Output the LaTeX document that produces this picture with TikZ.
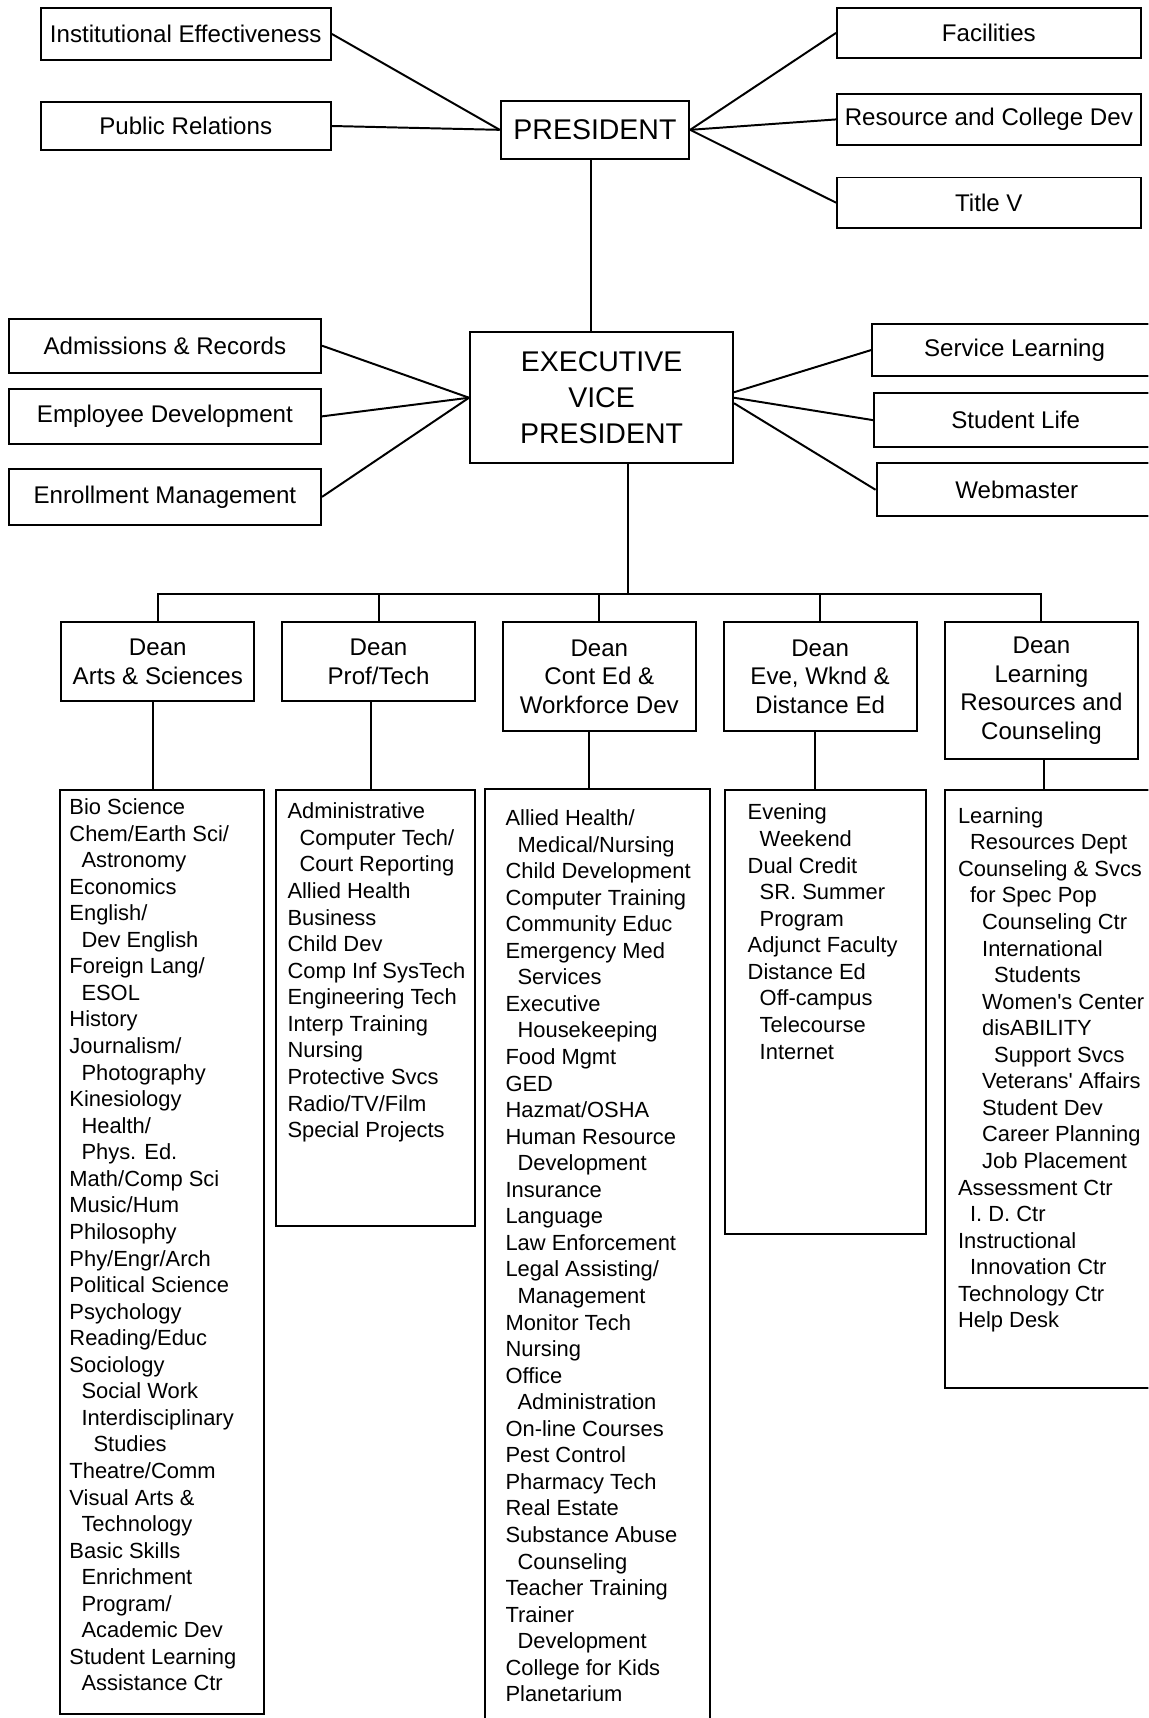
\documentclass[tikz,border=0pt]{standalone}
\usepackage{fontspec}
\setmainfont{Liberation Sans}
\usetikzlibrary{positioning}
\newcommand{\Ind}[1]{\hspace*{#1pt}}
\tikzset{
    box/.style={draw,line width=0.9pt,inner sep=0pt,align=center,font=\fontsize{11}{13}\selectfont},
    big/.style={box,font=\fontsize{13}{16.25}\selectfont},
    boxsize/.style 2 args={minimum width=#1*0.5pt,minimum height=#2*0.5pt},
    listbox/.style={draw,line width=0.9pt,anchor=north west,inner sep=0pt},
    listtext/.style={anchor=north west,inner sep=0pt,align=left,font=\fontsize{10}{12.12}\selectfont},
    link/.style={line width=0.9pt}
}

\begin{document}
\begin{tikzpicture}[x=0.5pt,y=-0.5pt]

    \useasboundingbox (0,0) rectangle (1048,1568);
    \clip (0,0) rectangle (1048,1568);

    % top level
    \node[box,boxsize={265}{48}] (InstEff) at (169.5,31) {Institutional Effectiveness};
    \node[box,boxsize={265}{44}] (PubRel) at (169.5,115) {Public Relations};
    \node[big,boxsize={172}{53}] (Pres) at (543,118.5) {PRESIDENT};
    \node[box,boxsize={277}{46}] (Fac) at (902.5,30) {Facilities};
    \node[box,boxsize={277}{46}] (ResDev) at (902.5,109) {Resource and College Dev};
    \node[box,boxsize={277}{46}] (TitleV) at (902.5,185) {Title V};

    % executive vice president
    \node[big,boxsize={240}{120}] (EVP) at (549,363) {EXECUTIVE\\VICE\\PRESIDENT};
    \node[box,boxsize={285}{49}] (Adm) at (150.5,315.5) {Admissions \& Records};
    \node[box,boxsize={285}{50}] (EmpDev) at (150.5,380) {Employee Development};
    \node[box,boxsize={285}{51}] (Enroll) at (150.5,453.5) {Enrollment Management};
    \node[box,boxsize={260}{47}] (SvcLrn) at (926,319.5) {Service Learning};
    \node[box,boxsize={258}{49}] (StuLife) at (927,383.5) {Student Life};
    \node[box,boxsize={256}{48}] (Web) at (928,447) {Webmaster};

    % deans
    \node[box,boxsize={176}{72}] (DeanAS) at (144,604) {Dean\\Arts \& Sciences};
    \node[box,boxsize={176}{72}] (DeanPT) at (345.5,604) {Dean\\Prof/Tech};
    \node[box,boxsize={176}{99}] (DeanCE) at (547,617.5) {Dean\\Cont Ed \&\\Workforce Dev};
    \node[box,boxsize={176}{99}] (DeanEve) at (748.5,617.5) {Dean\\Eve, Wknd \&\\Distance Ed};
    \node[box,boxsize={176}{125}] (DeanLRC) at (950.5,630.5) {Dean\\Learning\\Resources and\\Counseling};

    % departments
    \node[listbox,boxsize={186}{843}] (ListAS) at (54,720) {};
    \node[listbox,boxsize={182}{398}] (ListPT) at (251,720) {};
    \node[listbox,boxsize={205}{870}] (ListCE) at (442,719) {};
    \node[listbox,boxsize={183}{405}] (ListEve) at (661,720) {};
    \node[listbox,boxsize={200}{546}] (ListLRC) at (862,720) {};

    \node[listtext] (TxtAS) at (63,726) {\strut Bio Science\\
        Chem/Earth Sci/\\ \Ind{5.5}Astronomy\\ Economics\\ English/\\ \Ind{5.5}Dev English\\
        Foreign Lang/\\ \Ind{5.5}ESOL\\ History\\ Journalism/\\ \Ind{5.5}Photography\\
        Kinesiology\\ \Ind{5.5}Health/\\ \Ind{5.5}Phys. Ed.\\ Math/Comp Sci\\ Music/Hum\\
        Philosophy\\ Phy/Engr/Arch\\ Political Science\\ Psychology\\ Reading/Educ\\
        Sociology\\ \Ind{5.5}Social Work\\ \Ind{5.5}Interdisciplinary\\ \Ind{11}Studies\\
        Theatre/Comm\\ Visual Arts \&\\ \Ind{5.5}Technology\\ Basic Skills\\
        \Ind{5.5}Enrichment\\ \Ind{5.5}Program/\\ \Ind{5.5}Academic Dev\\
        Student Learning\\ \Ind{5.5}Assistance Ctr};
    \node[listtext] (TxtPT) at (262,730) {\strut Administrative\\
        \Ind{5.5}Computer Tech/\\ \Ind{5.5}Court Reporting\\ Allied Health\\ Business\\
        Child Dev\\ Comp Inf SysTech\\ Engineering Tech\\ Interp Training\\ Nursing\\
        Protective Svcs\\ Radio/TV/Film\\ Special Projects};
    \node[listtext] (TxtCE) at (461,736) {\strut Allied Health/\\
        \Ind{5.5}Medical/Nursing\\ Child Development\\ Computer Training\\ Community Educ\\
        Emergency Med\\ \Ind{5.5}Services\\ Executive\\ \Ind{5.5}Housekeeping\\ Food Mgmt\\
        GED\\ Hazmat/OSHA\\ Human Resource\\ \Ind{5.5}Development\\ Insurance\\ Language\\
        Law Enforcement\\ Legal Assisting/\\ \Ind{5.5}Management\\ Monitor Tech\\ Nursing\\
        Office\\ \Ind{5.5}Administration\\ On-line Courses\\ Pest Control\\ Pharmacy Tech\\
        Real Estate\\ Substance Abuse\\ \Ind{5.5}Counseling\\ Teacher Training\\ Trainer\\
        \Ind{5.5}Development\\ College for Kids\\ Planetarium};
    \node[listtext] (TxtEve) at (682,731) {\strut Evening\\
        \Ind{5.5}Weekend\\ Dual Credit\\ \Ind{5.5}SR. Summer\\ \Ind{5.5}Program\\
        Adjunct Faculty\\ Distance Ed\\ \Ind{5.5}Off-campus\\ \Ind{5.5}Telecourse\\
        \Ind{5.5}Internet};
    \node[listtext] (TxtLRC) at (874,734) {\strut Learning\\
        \Ind{5.5}Resources Dept\\ Counseling \& Svcs\\ \Ind{5.5}for Spec Pop\\
        \Ind{11}Counseling Ctr\\ \Ind{11}International\\ \Ind{16.5}Students\\
        \Ind{11}Women\textquotesingle s Center\\ \Ind{11}disABILITY\\ \Ind{16.5}Support Svcs\\
        \Ind{11}Veterans\textquotesingle\ Affairs\\ \Ind{11}Student Dev\\ \Ind{11}Career Planning\\
        \Ind{11}Job Placement\\ Assessment Ctr\\ \Ind{5.5}I. D. Ctr\\ Instructional\\
        \Ind{5.5}Innovation Ctr\\ Technology Ctr\\ Help Desk};

    % connectors
    \draw[link] (InstEff.east) -- (Pres.west);
    \draw[link] (PubRel.east) -- (Pres.west);
    \foreach \n in {Fac,ResDev,TitleV}
        \draw[link] (Pres.east) -- (\n.west);
    \draw[link] ([xshift=-2pt]Pres.south) -- ([xshift=-2pt]Pres.south |- EVP.north);
    \foreach \n in {Adm,EmpDev,Enroll}
        \draw[link] (\n.east) -- (EVP.west);
    \foreach \n/\dy in {SvcLrn/2.5pt,StuLife/0pt,Web/-2.5pt}
        \draw[link] ([yshift=\dy]EVP.east) -- (\n.west);

    \coordinate (Bus) at (573,542);
    \draw[link] (EVP.south -| Bus) -- (Bus);
    \draw[link] (DeanAS.north) |- (Bus) -| (DeanLRC.north);
    \foreach \n in {DeanPT,DeanCE,DeanEve}
        \draw[link] (\n.north) -- (\n.north |- Bus);

    \foreach \d/\l/\dx in {DeanAS/ListAS/-2pt,DeanPT/ListPT/-3.5pt,DeanCE/ListCE/-4.5pt,
                          DeanEve/ListEve/-2.2pt,DeanLRC/ListLRC/1.2pt}
        \draw[link] ([xshift=\dx]\d.south) -- ([xshift=\dx]\d.south |- \l.north);
\end{tikzpicture}
\end{document}
